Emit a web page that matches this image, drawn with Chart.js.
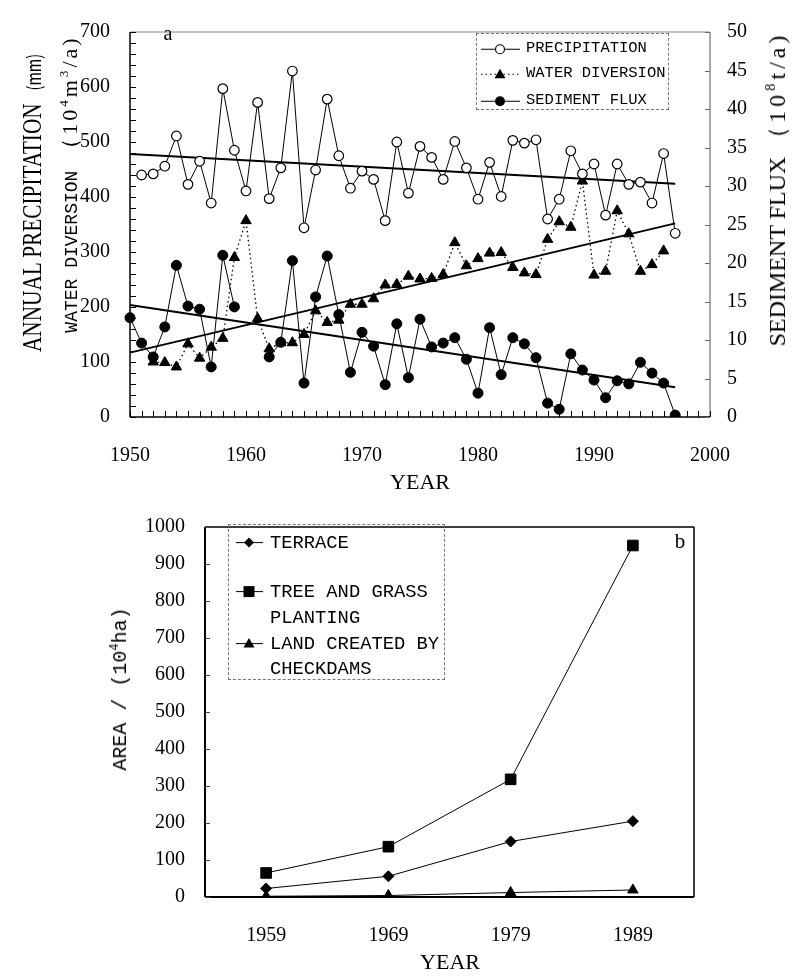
<!DOCTYPE html>
<html>
<head>
<meta charset="utf-8">
<script src="https://cdn.jsdelivr.net/npm/chart.js@4.4.1/dist/chart.umd.min.js"></script>
<style>
  body { margin: 0; background: #fff; }
  #page { position: relative; width: 795px; height: 976px; overflow: hidden; }
  canvas { position: absolute; left: 0; }
  .t { position: absolute; white-space: nowrap; line-height: 1; color: #000; transform: translate(-50%, -50%); }
  .serif { font-family: 'Liberation Serif', serif; }
  .mono { font-family: 'Liberation Mono', monospace; }
  .box { position: absolute; border: 1px dashed #777; box-sizing: border-box; }
  .row { position: absolute; display: flex; align-items: center; white-space: nowrap; line-height: 1; transform: translateY(-50%); }
  .row svg { flex: none; }
  sup { font-size: 60%; vertical-align: 0.7em; line-height: 0; }
</style>
</head>
<body>
<div id="page">
  <canvas id="topChart" width="795" height="495" style="top:0"></canvas>
  <canvas id="areaChart" width="795" height="481" style="top:495px"></canvas>

  <!-- top chart texts -->
  <div class="t serif" style="left:168px; top:33px; font-size:20px">a</div>
  <div class="t serif" style="left:32px; top:203px; font-size:28px; transform:translate(-50%,-50%) rotate(-90deg) scaleX(0.76)">ANNUAL PRECIPITATION <span style="font-family:'Noto Sans CJK SC'; font-size:19px; margin-left:10px">(mm)</span></div>
  <div class="t mono" style="left:70px; top:184px; font-size:18px; transform:translate(-50%,-50%) rotate(-90deg)">WATER DIVERSION <span class="serif" style="font-size:22px; letter-spacing:3px">（10<sup>4</sup>m<sup>3</sup>/a)</span></div>
  <div class="t serif" style="left:777px; top:189px; font-size:24px; transform:translate(-50%,-50%) rotate(-90deg)">SEDIMENT FLUX <span style="letter-spacing:4px">（10<sup>8</sup>t/a)</span></div>
  <div class="t serif" style="left:420px; top:482px; font-size:22px">YEAR</div>

  <div class="box" style="left:476px; top:33px; width:193px; height:77px">
    <div class="row mono" style="left:3px; top:15px; font-size:15.5px">
      <svg width="42" height="14"><line x1="1" y1="7" x2="40" y2="7" stroke="#000" stroke-width="1"/><circle cx="20" cy="7" r="4.5" fill="#fff" stroke="#000" stroke-width="1.2"/></svg>
      <span style="margin-left:4px">PRECIPITATION</span>
    </div>
    <div class="row mono" style="left:3px; top:40px; font-size:15.5px">
      <svg width="42" height="14"><line x1="1" y1="7" x2="40" y2="7" stroke="#000" stroke-width="1.2" stroke-dasharray="1.5 3"/><polygon points="20,1.5 25.5,11 14.5,11" fill="#000"/></svg>
      <span style="margin-left:4px">WATER DIVERSION</span>
    </div>
    <div class="row mono" style="left:3px; top:67px; font-size:15.5px">
      <svg width="42" height="14"><line x1="1" y1="7" x2="40" y2="7" stroke="#000" stroke-width="1"/><circle cx="20" cy="7" r="5" fill="#000"/></svg>
      <span style="margin-left:4px">SEDIMENT FLUX</span>
    </div>
  </div>

  <!-- bottom chart texts -->
  <div class="t serif" style="left:680px; top:541px; font-size:21px">b</div>
  <div class="t mono" style="left:121px; top:689px; font-size:20px; transform:translate(-50%,-50%) rotate(-90deg)">AREA / (10<sup>4</sup>ha)</div>
  <div class="t serif" style="left:450px; top:962px; font-size:22px">YEAR</div>

  <div class="box" style="left:228px; top:524px; width:217px; height:156px">
    <div class="row mono" style="left:6px; top:18px; font-size:18.8px">
      <svg width="30" height="14"><line x1="1" y1="7" x2="28" y2="7" stroke="#000" stroke-width="1"/><polygon points="14,2 19,7 14,12 9,7" fill="#000"/></svg>
      <span style="margin-left:5px">TERRACE</span>
    </div>
    <div class="row mono" style="left:6px; top:67px; font-size:18.8px">
      <svg width="30" height="14"><line x1="1" y1="7" x2="28" y2="7" stroke="#000" stroke-width="1"/><rect x="8.5" y="1.5" width="11" height="11" fill="#000"/></svg>
      <span style="margin-left:5px">TREE AND GRASS</span>
    </div>
    <div class="row mono" style="left:41px; top:93px; font-size:18.8px">PLANTING</div>
    <div class="row mono" style="left:6px; top:119px; font-size:18.8px">
      <svg width="30" height="14"><line x1="1" y1="7" x2="28" y2="7" stroke="#000" stroke-width="1"/><polygon points="14,1.5 19.5,11 8.5,11" fill="#000"/></svg>
      <span style="margin-left:5px">LAND CREATED BY</span>
    </div>
    <div class="row mono" style="left:41px; top:144px; font-size:18.8px">CHECKDAMS</div>
  </div>
</div>

<script>
// ---- data, panel a (1950 - 1997) ----
var yearLabels = Array.from({ length: 51 }, function (_, i) { return String(1950 + i); });

var precipitation = [null, 440, 442, 456, 511, 423, 465, 389, 597, 485,
  411, 572, 397, 453, 629, 344, 449, 578, 475, 416,
  447, 432, 357, 500, 407, 492, 472, 432, 501, 453,
  396, 463, 401, 503, 498, 504, 360, 396, 484, 442,
  460, 367, 460, 423, 427, 389, 479, 334];

var waterDiversion = [null, null, 100, 99, 91, 133, 107, 127, 143, 290,
  357, 179, 124, 135, 135, 150, 193, 172, 176, 205,
  205, 215, 240, 241, 256, 251, 252, 259, 317, 275,
  288, 298, 299, 272, 262, 259, 323, 355, 345, 429,
  258, 265, 375, 333, 265, 277, 302, null];

var sedimentFlux = [12.9, 9.6, 7.8, 11.7, 19.7, 14.4, 14.0, 6.5, 21.0, 14.3,
  null, null, 7.8, 9.7, 20.3, 4.4, 15.6, 20.9, 13.3, 5.8,
  11.0, 9.2, 4.2, 12.1, 5.1, 12.7, 9.1, 9.6, 10.3, 7.5,
  3.1, 11.6, 5.5, 10.3, 9.5, 7.7, 1.8, 1.0, 8.2, 6.1,
  4.8, 2.5, 4.7, 4.3, 7.1, 5.7, 4.4, 0.25];

// linear trends, start and end values
var trendYears = ['1950', '1997'];
var precipTrend = [478, 424];
var diversionTrend = [117, 352];
var sedimentTrend = [14.55, 3.86];

// ---- data, panel b ----
var areaYears = ['1959', '1969', '1979', '1989'];
var terrace = [23, 56, 150, 205];
var treeGrass = [65, 136, 318, 950];
var checkdams = [2, 4, 12, 19];

var SERIF = "'Liberation Serif', serif";

function trend(vals) {
  return trendYears.map(function (y, i) { return { x: y, y: vals[i] }; });
}

// frame round the plot area plus short ticks pointing inwards
var framePlugin = {
  id: 'frame',
  beforeDatasetsDraw: function (chart, args, opts) {
    var ctx = chart.ctx, a = chart.chartArea;
    ctx.save();
    var e = opts.edges;
    function edge(c, x1, y1, x2, y2) {
      ctx.strokeStyle = c.color; ctx.lineWidth = c.width;
      ctx.beginPath(); ctx.moveTo(x1, y1); ctx.lineTo(x2, y2); ctx.stroke();
    }
    edge(e.top, a.left, a.top, a.right, a.top);
    edge(e.right, a.right, a.top, a.right, a.bottom);
    edge(e.bottom, a.left, a.bottom, a.right, a.bottom);
    edge(e.left, a.left, a.top, a.left, a.bottom);

    (opts.ticks || []).forEach(function (t) {
      var s = chart.scales[t.axis];
      ctx.strokeStyle = t.color || '#000';
      ctx.lineWidth = t.width || 1;
      s.ticks.forEach(function (tk, i) {
        var p = Math.round(s.getPixelForTick(i)) + 0.5;
        ctx.beginPath();
        if (s.isHorizontal()) { ctx.moveTo(p, a.bottom); ctx.lineTo(p, a.bottom - t.len); }
        else if (s.position === 'left') { ctx.moveTo(a.left, p); ctx.lineTo(a.left + t.len, p); }
        else { ctx.moveTo(a.right, p); ctx.lineTo(a.right - t.len, p); }
        ctx.stroke();
      });
    });
    ctx.restore();
  }
};

var noGrid = { display: false, drawTicks: false };

// ---- panel a ----
new Chart(document.getElementById('topChart'), {
  type: 'line',
  plugins: [framePlugin],
  data: {
    labels: yearLabels,
    datasets: [
      { label: 'PRECIPITATION', data: precipitation, yAxisID: 'y',
        borderColor: '#000', borderWidth: 1, pointStyle: 'circle', pointRadius: 4.8,
        pointBackgroundColor: '#fff', pointBorderColor: '#000', pointBorderWidth: 1.2 },
      { label: 'WATER DIVERSION', data: waterDiversion, yAxisID: 'y',
        borderColor: '#000', borderWidth: 1.3, borderDash: [1.5, 3], pointStyle: 'triangle', pointRadius: 6,
        pointBackgroundColor: '#000', pointBorderColor: '#000', pointBorderWidth: 1 },
      { label: 'SEDIMENT FLUX', data: sedimentFlux, yAxisID: 'y2',
        borderColor: '#000', borderWidth: 1, pointStyle: 'circle', pointRadius: 5,
        pointBackgroundColor: '#000', pointBorderColor: '#000', pointBorderWidth: 1 },
      { label: 'precipitation trend', data: trend(precipTrend), yAxisID: 'y',
        borderColor: '#000', borderWidth: 2, pointRadius: 0 },
      { label: 'diversion trend', data: trend(diversionTrend), yAxisID: 'y',
        borderColor: '#000', borderWidth: 2, pointRadius: 0 },
      { label: 'sediment trend', data: trend(sedimentTrend), yAxisID: 'y2',
        borderColor: '#000', borderWidth: 2, pointRadius: 0 }
    ]
  },
  options: {
    responsive: false,
    animation: false,
    layout: { padding: { top: 15, left: 0, right: 0, bottom: 0 } },
    elements: { line: { tension: 0 } },
    plugins: {
      legend: { display: false },
      tooltip: { enabled: false },
      frame: {
        edges: {
          top: { color: '#888', width: 1 },
          right: { color: '#555', width: 1 },
          bottom: { color: '#000', width: 1.5 },
          left: { color: '#000', width: 1.5 }
        },
        ticks: [
          { axis: 'x', len: 6 },
          { axis: 'y', len: 6 },
          { axis: 'y2', len: 5, color: '#666' }
        ]
      }
    },
    scales: {
      x: {
        type: 'category', offset: false, grid: noGrid, border: { display: false },
        ticks: {
          autoSkip: false, maxRotation: 0, padding: 27, color: '#000', font: { family: SERIF, size: 20 },
          callback: function (v) { var l = this.getLabelForValue(v); return Number(l) % 10 === 0 ? l : ''; }
        },
        afterFit: function (s) { s.height = 78; }
      },
      y: {
        position: 'left', min: 0, max: 700, grid: noGrid, border: { display: false },
        ticks: {
          stepSize: 20, maxTicksLimit: 100, autoSkip: false, padding: 20, color: '#000', font: { family: SERIF, size: 20 },
          callback: function (v) { return v % 100 === 0 ? String(v) : ''; }
        },
        afterFit: function (s) { s.width = 130; }
      },
      y2: {
        position: 'right', min: 0, max: 50, grid: noGrid, border: { display: false },
        ticks: {
          stepSize: 5, maxTicksLimit: 100, autoSkip: false, padding: 17, color: '#000', font: { family: SERIF, size: 20 },
          callback: function (v) { return String(v); }
        },
        afterFit: function (s) { s.width = 85; }
      }
    }
  }
});

// ---- panel b ----
new Chart(document.getElementById('areaChart'), {
  type: 'line',
  plugins: [framePlugin],
  data: {
    labels: areaYears,
    datasets: [
      { label: 'TERRACE', data: terrace, borderColor: '#000', borderWidth: 1,
        pointStyle: 'rectRot', pointRadius: 5.5, pointBackgroundColor: '#000', pointBorderColor: '#000' },
      { label: 'TREE AND GRASS PLANTING', data: treeGrass, borderColor: '#000', borderWidth: 1,
        pointStyle: 'rect', pointRadius: 7.5, pointBackgroundColor: '#000', pointBorderColor: '#000' },
      { label: 'LAND CREATED BY CHECKDAMS', data: checkdams, borderColor: '#000', borderWidth: 1,
        pointStyle: 'triangle', pointRadius: 6, pointBackgroundColor: '#000', pointBorderColor: '#000' }
    ]
  },
  options: {
    responsive: false,
    animation: false,
    layout: { padding: { top: 21, left: 0, right: 101, bottom: 0 } },
    elements: { line: { tension: 0 } },
    plugins: {
      legend: { display: false },
      tooltip: { enabled: false },
      frame: {
        edges: {
          top: { color: '#000', width: 1.5 },
          right: { color: '#000', width: 1.5 },
          bottom: { color: '#000', width: 2 },
          left: { color: '#000', width: 2 }
        },
        ticks: [{ axis: 'y', len: 5, color: '#444' }]
      }
    },
    scales: {
      x: {
        type: 'category', offset: true, grid: noGrid, border: { display: false },
        ticks: { autoSkip: false, maxRotation: 0, padding: 27, color: '#000', font: { family: SERIF, size: 20 } },
        afterFit: function (s) { s.height = 79; }
      },
      y: {
        position: 'left', min: 0, max: 1000, grid: noGrid, border: { display: false },
        ticks: {
          stepSize: 100, autoSkip: false, padding: 20, color: '#000', font: { family: SERIF, size: 20 },
          callback: function (v) { return String(v); }
        },
        afterFit: function (s) { s.width = 205; }
      }
    }
  }
});
</script>
</body>
</html>
